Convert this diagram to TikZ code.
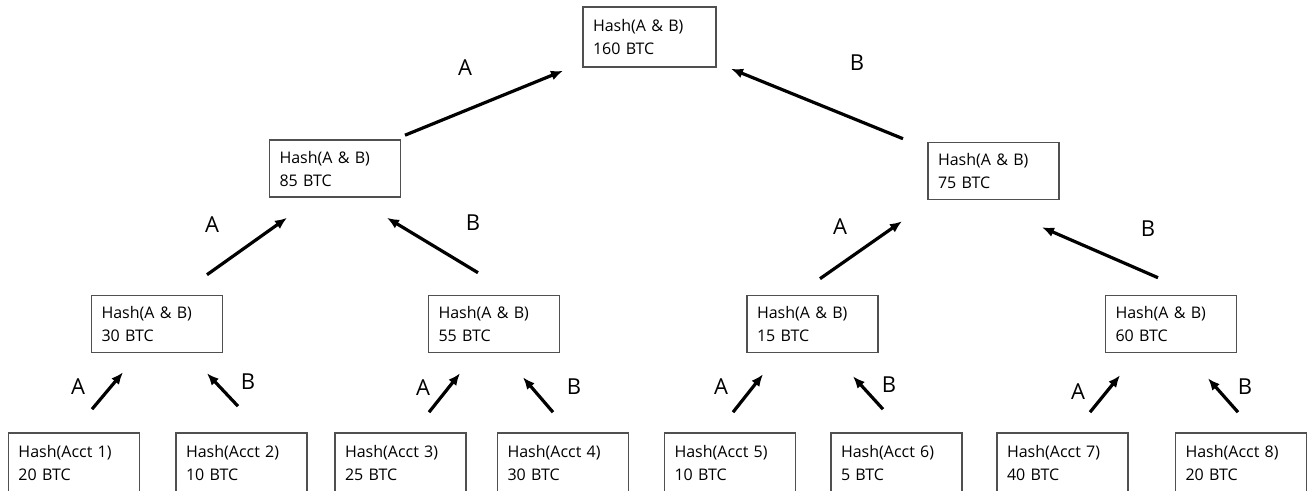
\documentclass[tikz,border=0pt]{standalone}
\usepackage{fontspec}
\setmainfont{Open Sans}
\usetikzlibrary{arrows.meta}
\definecolor{boxline}{RGB}{80, 80, 80}

\begin{document}
\begin{tikzpicture}[x=0.75pt, y=-0.75pt,
  hashbox/.style={draw=boxline, line width=1.2pt, rectangle, inner xsep=7.5pt,
    text width=83.25pt, minimum height=42.75pt, align=left,
    font=\fontsize{12}{17.25}\selectfont},
  leafbox/.style={hashbox, minimum height=45pt},
  side/.style={font=\fontsize{16.5}{19}\selectfont},
  link/.style={-{Latex[length=9pt, width=7.5pt]}, line width=2.4pt}]
  \useasboundingbox (0, 0) rectangle (1311, 490);

  % root
  \node[hashbox, text width=84.75pt, minimum height=45pt] (root) at (649.5, 37) {Hash(A \& B)\\160 BTC};

  % second level
  \node[hashbox] (n85) at (335, 168.5) {Hash(A \& B)\\85 BTC};
  \node[hashbox] (n75) at (993.5, 171) {Hash(A \& B)\\75 BTC};

  % third level
  \node[hashbox] (n30) at (157, 324) {Hash(A \& B)\\30 BTC};
  \node[hashbox] (n55) at (494, 324) {Hash(A \& B)\\55 BTC};
  \node[hashbox] (n15) at (812.5, 324) {Hash(A \& B)\\15 BTC};
  \node[hashbox] (n60) at (1171, 324) {Hash(A \& B)\\60 BTC};

  % accounts
  \node[leafbox] (acct1) at (74, 463) {Hash(Acct 1)\\20 BTC};
  \node[leafbox] (acct2) at (241.5, 463) {Hash(Acct 2)\\10 BTC};
  \node[leafbox] (acct3) at (400.5, 463) {Hash(Acct 3)\\25 BTC};
  \node[leafbox] (acct4) at (563, 463) {Hash(Acct 4)\\30 BTC};
  \node[leafbox] (acct5) at (730, 463) {Hash(Acct 5)\\10 BTC};
  \node[leafbox] (acct6) at (896.5, 463) {Hash(Acct 6)\\5 BTC};
  \node[leafbox] (acct7) at (1062.5, 463) {Hash(Acct 7)\\40 BTC};
  \node[leafbox] (acct8) at (1241, 463) {Hash(Acct 8)\\20 BTC};

  % links to the root
  \draw[link] ([shift={(70, -4)}]n85.north) -- ([shift={(-86.5, 3)}]root.south);
  \node[side] (sA0) at (465, 68) {A};
  \draw[link] ([shift={(-90.5, -3)}]n75.north) -- ([shift={(81.5, 1)}]root.south);
  \node[side] (sB0) at (857, 63) {B};

  % links to the second level
  \draw[link] ([shift={(50, -20)}]n30.north) -- ([shift={(-48, 20)}]n85.south);
  \node[side] (sA1) at (212, 225) {A};
  \draw[link] ([shift={(-16, -22)}]n55.north) -- ([shift={(52, 20)}]n85.south);
  \node[side] (sB1) at (473, 223) {B};
  \draw[link] ([shift={(7.5, -16)}]n15.north) -- ([shift={(-91.5, 21)}]n75.south);
  \node[side] (sA2) at (840, 227) {A};
  \draw[link] ([shift={(-13, -17)}]n60.north) -- ([shift={(48.5, 27)}]n75.south);
  \node[side] (sB2) at (1148, 229) {B};

  % links to the third level
  \draw[link] ([shift={(18, -23)}]acct1.north) -- ([shift={(-34, 19)}]n30.south);
  \node[side] (sA3) at (78, 387) {A};
  \draw[link] ([shift={(-3.5, -26)}]acct2.north) -- ([shift={(50, 20)}]n30.south);
  \node[side] (sB3) at (248, 382) {B};
  \draw[link] ([shift={(28.5, -20)}]acct3.north) -- ([shift={(-34, 20)}]n55.south);
  \node[side] (sA4) at (423, 388) {A};
  \draw[link] ([shift={(-10, -20)}]acct4.north) -- ([shift={(29, 24)}]n55.south);
  \node[side] (sB4) at (574, 387) {B};
  \draw[link] ([shift={(3, -20)}]acct5.north) -- ([shift={(-49.5, 21)}]n15.south);
  \node[side] (sA5) at (721, 387) {A};
  \draw[link] ([shift={(-13.5, -23)}]acct6.north) -- ([shift={(40.5, 23)}]n15.south);
  \node[side] (sB5) at (889, 385) {B};
  \draw[link] ([shift={(27.5, -20)}]acct7.north) -- ([shift={(-51, 22)}]n60.south);
  \node[side] (sA6) at (1078, 392) {A};
  \draw[link] ([shift={(-3, -20)}]acct8.north) -- ([shift={(37, 25)}]n60.south);
  \node[side] (sB6) at (1245, 387) {B};
\end{tikzpicture}
\end{document}
